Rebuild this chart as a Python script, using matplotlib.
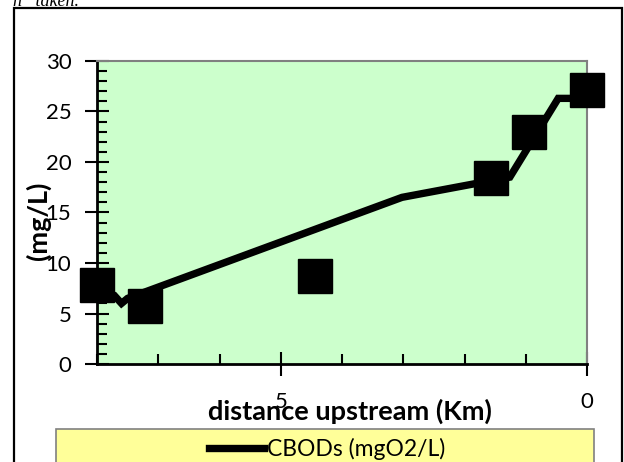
import matplotlib
matplotlib.use("Agg")
import matplotlib.pyplot as plt
from matplotlib.patches import Rectangle
from matplotlib.ticker import MultipleLocator

plt.rcParams['font.family'] = ['Lato', 'DejaVu Sans']

# model curve (CBODs, mgO2/L) along the river, km upstream
model_km = [8.0, 7.72, 7.6, 7.5, 3.02, 1.26, 0.47, 0.0]
model_cbod = [7.3, 6.8, 6.0, 6.5, 16.5, 18.5, 26.3, 26.3]

# measured points
obs_km = [8.0, 7.22, 4.44, 1.57, 0.95, 0.0]
obs_cbod = [7.8, 5.75, 8.7, 18.4, 23.0, 27.1]

W, H = 624, 462
fig = plt.figure(figsize=(W / 100, H / 100), dpi=100)

# outer chart frame (runs off the bottom of the picture)
fig.patches.append(Rectangle((14 / W, -0.05), 608 / W, 1.05 - 8 / H,
                             transform=fig.transFigure, fill=False,
                             edgecolor='black', linewidth=1.6))
# cut-off caption text above the chart
fig.text(13 / W, 1 - 6 / H, "n   taken.", family='Liberation Serif',
         style='italic', fontsize=13, ha='left', va='baseline')

ax = fig.add_axes([97 / W, 1 - 364 / H, 490 / W, 303 / H])
ax.set_facecolor('#CCFFCC')

line, = ax.plot(model_km, model_cbod, color='black', linewidth=5.3,
                solid_joinstyle='miter', zorder=3, label='CBODs (mgO2/L)')
ax.plot(obs_km, obs_cbod, linestyle='none', marker='s', markersize=24,
        color='black', clip_on=False, zorder=5)

ax.set_xlim(8, 0)
ax.set_ylim(0, 30)
ax.xaxis.set_major_locator(MultipleLocator(5))
ax.xaxis.set_minor_locator(MultipleLocator(1))
ax.yaxis.set_major_locator(MultipleLocator(5))
ax.yaxis.set_minor_locator(MultipleLocator(1))

ax.tick_params(which='major', direction='inout', length=17, width=1.5,
               labelsize=16, pad=10)
ax.tick_params(which='minor', direction='in', length=7, width=1.5)
ax.tick_params(axis='x', which='major', pad=12)

for s in ['left', 'bottom']:
    ax.spines[s].set_color('black')
    ax.spines[s].set_linewidth(2)
for s in ['top', 'right']:
    ax.spines[s].set_color('#808080')
    ax.spines[s].set_linewidth(1.5)

fig.text(350 / W, 1 - 411 / H, "distance upstream (Km)", fontsize=19.5,
         fontweight='bold', ha='center', va='center')
fig.text(38 / W, 1 - 221 / H, "(mg/L)", fontsize=19.5, fontweight='bold',
         rotation=90, ha='center', va='center')

# legend box
fig.patches.append(Rectangle((56 / W, -0.05), 538 / W, 0.05 + 1 - 429 / H,
                             transform=fig.transFigure, facecolor='#FFFF99',
                             edgecolor='#808080', linewidth=1.2))
fig.legend(handles=[line], loc='center', bbox_to_anchor=(327 / W, 1 - 449 / H),
           frameon=False, fontsize=16.5, handlelength=2.4, handletextpad=0.1)

fig.savefig('out.png', dpi=100)
